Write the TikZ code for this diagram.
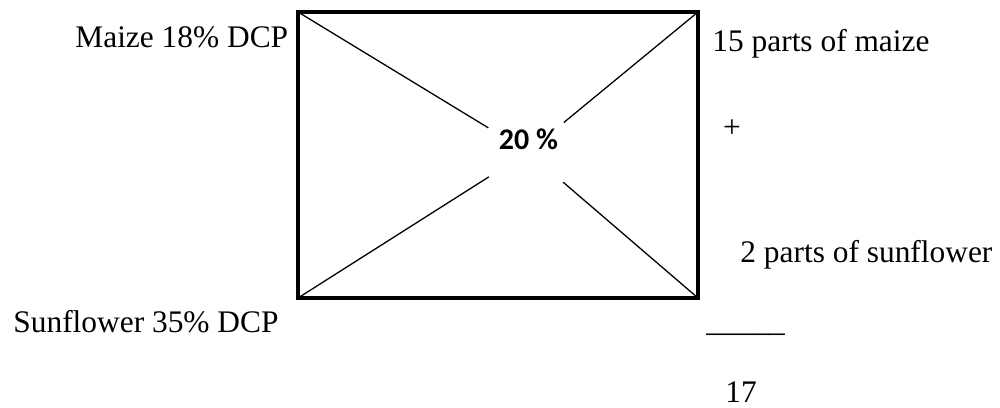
\documentclass[tikz,border=0pt]{standalone}
\usepackage{fontspec}
\setmainfont{Liberation Serif}
\newfontfamily\pctfont{Carlito}
\begin{document}
\begin{tikzpicture}[x=0.5pt, y=-0.5pt,
    txt/.style={anchor=base west, inner sep=0pt, font=\fontsize{15.7}{19}\selectfont},
    box/.style={line width=2pt},
    diag/.style={line width=0.65pt}]
    \useasboundingbox (0,0) rectangle (1000,407);
    % Pearson square
    \coordinate (tl) at (298,12);
    \coordinate (tr) at (698,12);
    \coordinate (br) at (698,298);
    \coordinate (bl) at (298,298);
    \draw[box] (tl) -- (tr) -- (br) -- (bl) -- cycle;
    \node[circle, minimum size=46pt, inner sep=0pt] (hub) at (528,152) {};
    \node[font=\pctfont\bfseries\fontsize{15}{18}\selectfont] (target) at (528.5,139) {20 \%};
    \draw[diag] (tl) -- (hub);
    \draw[diag] (tr) -- (hub);
    \draw[diag] (bl) -- (hub);
    \draw[diag] (br) -- (hub);
    % feeds
    \node[txt] (maize) at (75,47) {Maize 18\% DCP};
    \node[txt] (sunflower) at (13,332) {Sunflower 35\% DCP};
    % parts
    \node[txt] (maizeparts) at (712,51) {15 parts of maize};
    \node[font=\fontsize{15.7}{19}\selectfont, inner sep=0pt] (plus) at (732,129) {+};
    \node[txt] (sunparts) at (740,262) {2 parts of sunflower};
    \node[txt] (rule) at (706,331) {\_\_\_\_\_};
    \node[txt] (total) at (725,402) {17};
\end{tikzpicture}
\end{document}
